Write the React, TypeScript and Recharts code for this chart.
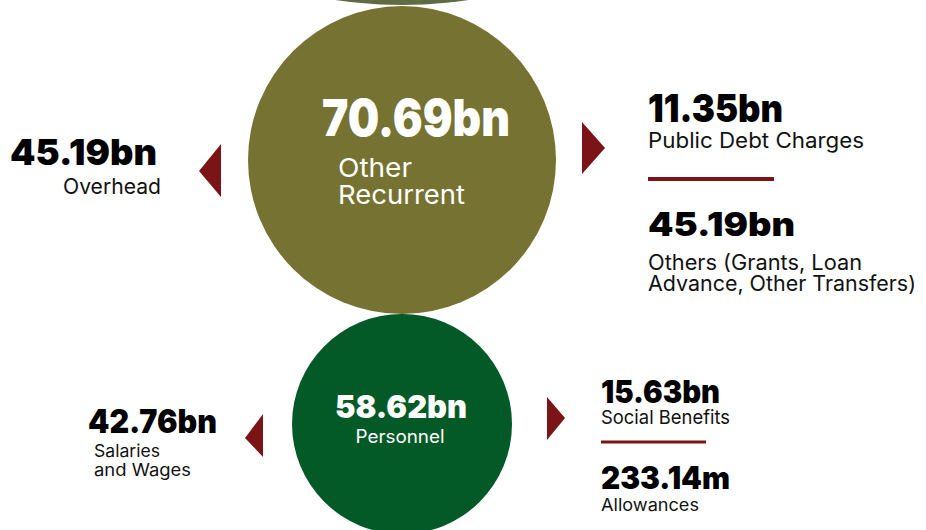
import { ScatterChart, Scatter, XAxis, YAxis } from "recharts";

// budget tiers, top to bottom (the top one is cut off by the frame)
const tierNames = ["", "Other Recurrent", "Personnel"];
const tierAmounts = [null, 70.69, 58.62];

// breakdown to the left of each tier
const leftNames = [null, "Overhead", "Salaries and Wages"];
const leftAmounts = [null, 45.19, 42.76];

// breakdown to the right of each tier (amounts in bn)
const rightNames = [
  [],
  ["Public Debt Charges", "Others (Grants, Loan Advance, Other Transfers)"],
  ["Social Benefits", "Allowances"],
];
const rightAmounts = [[], [11.35, 45.19], [15.63, 0.23314]];

const W = 926;
const H = 530;
const COL_X = 402;
const RADII = [450, 154, 110];
const FIRST_BOTTOM = 5;
const GAPS = [0, 1, 0];
const FILLS = ["#606b43", "#767232", "#045a27"];
const RED = "#7b1416";
const FONT = "Inter, 'Open Sans', sans-serif";

const fmt = (v: number) =>
  v >= 1 ? `${v.toFixed(2)}bn` : `${(v * 1000).toFixed(2)}m`;

// stack the circles so each one sits right under the previous
const centers: number[] = [];
let edge = FIRST_BOTTOM - 2 * RADII[0];
RADII.forEach((r, i) => {
  edge += GAPS[i];
  centers.push(edge + r);
  edge += 2 * r;
});

const data = tierNames.map((name, i) => ({
  x: COL_X,
  y: centers[i],
  index: i,
  name,
  amount: tierAmounts[i],
}));

// text layout per tier, offsets relative to the circle centre
const layouts: any[] = [
  null,
  {
    value: { dx: -80, dy: -24, fs: 51, w: 188, anchor: "start" },
    label: { dx: -64, dy: [17, 44], fs: 26, w: [74, 127], anchor: "start", lines: ["Other", "Recurrent"] },
    leftArrow: { base: -181, y1: -16, y2: 37, tip: -203, ty: 11 },
    leftValue: { dx: -245, dy: 5, fs: 36, w: 147, anchor: "end" },
    leftLabel: { dx: -241, dy: [34], fs: 21, w: [98], anchor: "end", lines: ["Overhead"] },
    rightArrow: { base: 180, y1: -38, y2: 14, tip: 203, ty: -12 },
    rightX: 246,
    items: [
      { vdy: -38, vfs: 39, vw: 135, ldy: [-12], lfs: 21, lw: [216], lines: ["Public Debt Charges"] },
      { vdy: 76, vfs: 33, vw: 147, ldy: [110, 131], lfs: 21, lw: [214, 268], lines: ["Others (Grants, Loan", "Advance, Other Transfers)"] },
    ],
    divider: { dy: 19, w: 126, t: 4 },
  },
  {
    value: { dx: -1, dy: -6, fs: 32, w: 132, anchor: "middle" },
    label: { dx: -2, dy: [19], fs: 18, w: [89], anchor: "middle", lines: ["Personnel"] },
    leftArrow: { base: -139, y1: -10, y2: 33, tip: -157, ty: 14 },
    leftValue: { dx: -314, dy: 9, fs: 33, w: 129, anchor: "start" },
    leftLabel: { dx: -308, dy: [33, 52], fs: 17, w: [66, 97], anchor: "start", lines: ["Salaries", "and Wages"] },
    rightArrow: { base: 145, y1: -27, y2: 16, tip: 163, ty: -6 },
    rightX: 199,
    items: [
      { vdy: -21, vfs: 32, vw: 119, ldy: [0], lfs: 19, lw: [129], lines: ["Social Benefits"] },
      { vdy: 65, vfs: 31, vw: 129, ldy: [87], lfs: 17, lw: [98], lines: ["Allowances"] },
    ],
    divider: { dy: 18, w: 105, t: 3 },
  },
];

function Txt({ x, y, fs, w, anchor = "start", bold, fill = "#111", children }: any) {
  return (
    <text
      x={x}
      y={y}
      fontSize={fs}
      fontFamily={FONT}
      fontWeight={bold ? 900 : 400}
      fill={fill}
      textAnchor={anchor}
      textLength={w}
      lengthAdjust="spacingAndGlyphs"
    >
      {children}
    </text>
  );
}

function Lines({ cx, cy, spec, fill }: any) {
  return (
    <>
      {spec.lines.map((line: string, k: number) => (
        <Txt key={k} x={cx + spec.dx} y={cy + spec.dy[k]} fs={spec.fs} w={spec.w[k]} anchor={spec.anchor} fill={fill}>
          {line}
        </Txt>
      ))}
    </>
  );
}

function Arrow({ cx, cy, a }: any) {
  const pts = `${cx + a.base},${cy + a.y1} ${cx + a.base},${cy + a.y2} ${cx + a.tip},${cy + a.ty}`;
  return <polygon points={pts} fill={RED} />;
}

function Bubble(props: any) {
  const { cx, cy, payload } = props;
  const i = payload.index;
  const L = layouts[i];
  const r = RADII[i];
  return (
    <g>
      <circle cx={cx} cy={cy} r={r} fill={FILLS[i]} />
      {L && payload.amount != null && (
        <>
          <Txt x={cx + L.value.dx} y={cy + L.value.dy} fs={L.value.fs} w={L.value.w} anchor={L.value.anchor} bold fill="#fff">
            {fmt(payload.amount)}
          </Txt>
          <Lines cx={cx} cy={cy} spec={L.label} fill="#fff" />
          <Arrow cx={cx} cy={cy} a={L.leftArrow} />
          <Txt x={cx + L.leftValue.dx} y={cy + L.leftValue.dy} fs={L.leftValue.fs} w={L.leftValue.w} anchor={L.leftValue.anchor} bold fill="#000">
            {fmt(leftAmounts[i] as number)}
          </Txt>
          <Lines cx={cx} cy={cy} spec={L.leftLabel} />
          <Arrow cx={cx} cy={cy} a={L.rightArrow} />
          {rightAmounts[i].map((v, k) => {
            const it = L.items[k];
            return (
              <g key={k}>
                <Txt x={cx + L.rightX} y={cy + it.vdy} fs={it.vfs} w={it.vw} bold fill="#000">
                  {fmt(v)}
                </Txt>
                {it.lines.map((line: string, j: number) => (
                  <Txt key={j} x={cx + L.rightX} y={cy + it.ldy[j]} fs={it.lfs} w={it.lw[j]}>
                    {line}
                  </Txt>
                ))}
              </g>
            );
          })}
          <rect x={cx + L.rightX} y={cy + L.divider.dy - L.divider.t / 2} width={L.divider.w} height={L.divider.t} fill={RED} />
        </>
      )}
    </g>
  );
}

export default function App() {
  return (
    <div style={{ position: "absolute", left: 0, top: 0, width: W, height: H, background: "#fff" }}>
      <ScatterChart width={W} height={H} margin={{ top: 0, right: 0, bottom: 0, left: 0 }}>
        <XAxis type="number" dataKey="x" domain={[0, W]} allowDataOverflow hide />
        <YAxis type="number" dataKey="y" domain={[0, H]} reversed allowDataOverflow hide />
        <Scatter data={data} shape={(p: any) => <Bubble {...p} />} isAnimationActive={false} />
      </ScatterChart>
    </div>
  );
}
